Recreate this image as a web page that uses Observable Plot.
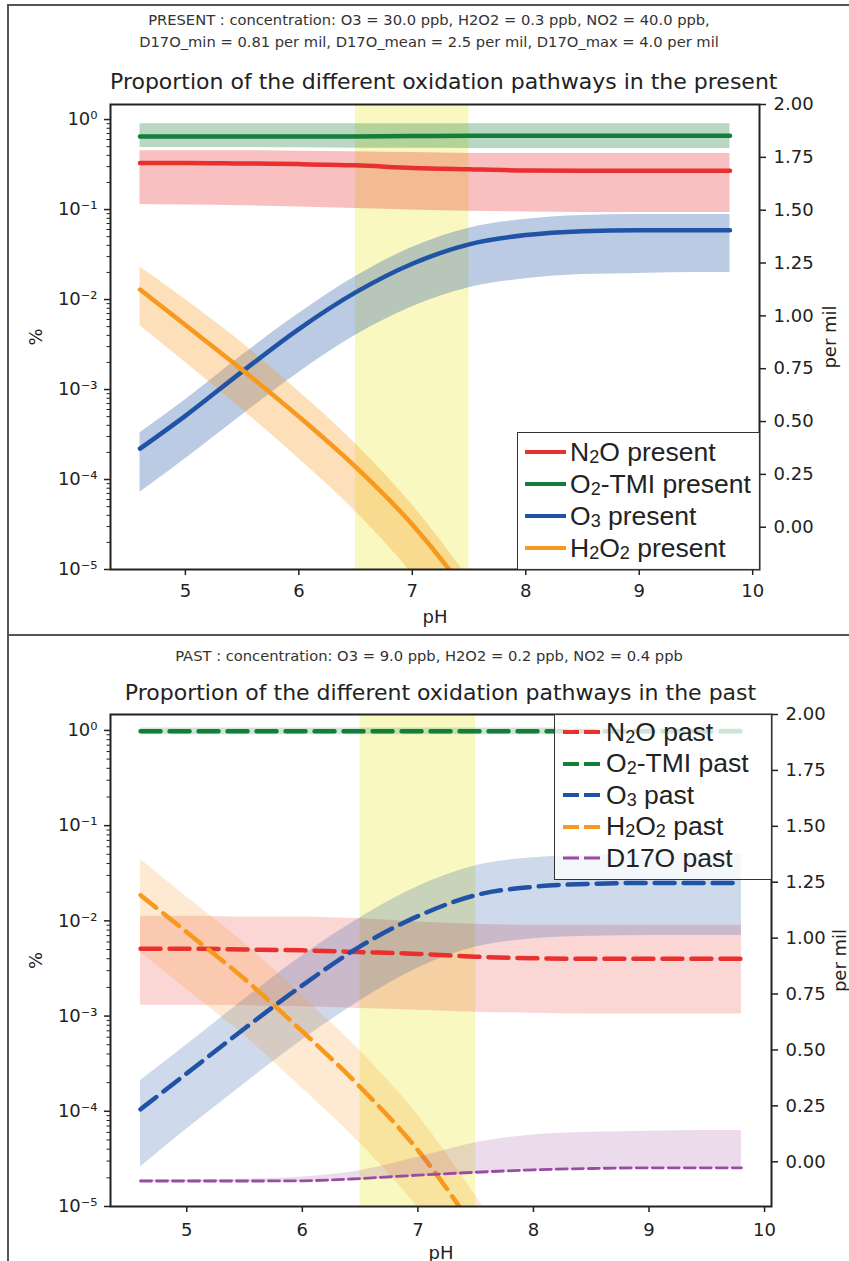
<!DOCTYPE html>
<html><head><meta charset="utf-8">
<script src="https://cdn.jsdelivr.net/npm/d3@7"></script>
<script src="https://cdn.jsdelivr.net/npm/@observablehq/plot@0.6"></script>
<style>
body{margin:0;background:#fff;width:849px;height:1261px;overflow:hidden;position:relative;font-family:"DejaVu Sans",sans-serif;}
.frameline{position:absolute;background:#555;}
.sup{position:absolute;left:0;width:858px;text-align:center;font-size:14.7px;color:#333;line-height:22px;white-space:nowrap;}
.title{position:absolute;text-align:center;font-size:22px;color:#222;white-space:nowrap;line-height:24px;}
.host{position:absolute;left:0;}
.host svg{position:absolute;left:0;top:0;}
.legend{position:absolute;box-sizing:border-box;border:1.5px solid #333;background:rgba(255,255,255,0.8);font-family:"Liberation Sans",Arial,sans-serif;font-size:26.5px;color:#222;z-index:5;}
.legend .row{position:absolute;left:0;height:32px;display:flex;align-items:center;white-space:nowrap;}
.legend svg{flex:none;}
.legend .s{font-size:0.68em;position:relative;top:0.12em;}
</style>
</head><body>
<div class="frameline" style="left:7px;top:4px;width:2px;height:1270px"></div>
<div class="frameline" style="left:7px;top:4px;width:850px;height:2px"></div>
<div class="frameline" style="left:7px;top:634px;width:850px;height:2px"></div>

<div class="sup" style="top:9px">PRESENT : concentration: O3 = 30.0 ppb, H2O2 = 0.3 ppb, NO2 = 40.0 ppb,<br>D17O_min = 0.81 per mil, D17O_mean = 2.5 per mil, D17O_max = 4.0 per mil</div>
<div class="title" style="top:70px;left:110px;width:649px">Proportion of the different oxidation pathways in the present</div>
<div class="host" id="p1" style="top:0;width:849px;height:636px"></div>

<div class="sup" style="top:645px">PAST : concentration: O3 = 9.0 ppb, H2O2 = 0.2 ppb, NO2 = 0.4 ppb</div>
<div class="title" style="top:681px;left:110px;width:661px">Proportion of the different oxidation pathways in the past</div>
<div class="host" id="p2" style="top:636px;width:849px;height:625px"></div>

<div id="leg1" class="legend" style="left:517px;top:432px;width:243px;height:138px"></div>
<div id="leg2" class="legend" style="left:554px;top:714px;width:218px;height:166px"></div>

<script>
// ---------- data ----------
const pH = [4.6, 5.0, 5.5, 6.0, 6.5, 7.0, 7.5, 8.0, 8.5, 9.0, 9.5, 9.8];
const pHshort = [4.6, 5.0, 5.5, 6.0, 6.5, 7.0, 7.5, 8.0];
const pHspan = [6.5, 7.5];

// present (fractions, log axis)
const n2oPresent     = [0.33, 0.33, 0.325, 0.32, 0.31, 0.29, 0.28, 0.272, 0.27, 0.27, 0.27, 0.27];
const n2oPresentLow  = [0.114, 0.112, 0.11, 0.107, 0.103, 0.099, 0.096, 0.094, 0.093, 0.093, 0.093, 0.093];
const n2oPresentHigh = [0.45, 0.45, 0.45, 0.445, 0.44, 0.43, 0.42, 0.42, 0.42, 0.42, 0.42, 0.42];
const o2Present      = [0.65, 0.65, 0.65, 0.65, 0.65, 0.655, 0.66, 0.66, 0.66, 0.66, 0.66, 0.66];
const o2PresentLow   = [0.49, 0.49, 0.49, 0.485, 0.48, 0.48, 0.478, 0.476, 0.476, 0.476, 0.476, 0.476];
const o2PresentHigh  = [0.9, 0.9, 0.9, 0.9, 0.9, 0.9, 0.9, 0.9, 0.9, 0.9, 0.9, 0.9];
const o3Present      = [2.2e-4, 5.1e-4, 1.58e-3, 4.7e-3, 0.012, 0.025, 0.041, 0.052, 0.0575, 0.059, 0.059, 0.059];
const o3PresentLow   = [7.2e-5, 1.7e-4, 5.2e-4, 1.55e-3, 4e-3, 8.3e-3, 0.0135, 0.017, 0.019, 0.0195, 0.02, 0.02];
const o3PresentHigh  = [3.3e-4, 7.7e-4, 2.4e-3, 7e-3, 0.018, 0.038, 0.062, 0.078, 0.086, 0.088, 0.088, 0.088];
const h2o2Present     = [0.0129, 5.2e-3, 1.66e-3, 5e-4, 1.38e-4, 3.16e-5, 5e-6, 5e-7];
const h2o2PresentLow  = [5.1e-3, 2e-3, 6e-4, 1.7e-4, 4.4e-5, 8.9e-6, 1.26e-6, 1e-7];
const h2o2PresentHigh = [0.023, 0.01, 3.3e-3, 9.5e-4, 2.5e-4, 5.2e-5, 7.9e-6, 1e-6];

// past (fractions, log axis)
const n2oPast     = [5.1e-3, 5.1e-3, 5.0e-3, 4.9e-3, 4.7e-3, 4.5e-3, 4.2e-3, 4.05e-3, 4.0e-3, 4.0e-3, 4.0e-3, 4.0e-3];
const n2oPastLow  = [1.3e-3, 1.3e-3, 1.28e-3, 1.25e-3, 1.2e-3, 1.15e-3, 1.1e-3, 1.07e-3, 1.05e-3, 1.05e-3, 1.05e-3, 1.05e-3];
const n2oPastHigh = [0.0112, 0.0112, 0.011, 0.011, 0.0105, 0.0097, 0.0092, 0.009, 0.009, 0.009, 0.009, 0.009];
const o2Past      = [0.98, 0.98, 0.98, 0.98, 0.98, 0.98, 0.98, 0.98, 0.98, 0.98, 0.98, 0.98];
const o2PastLow   = [0.9, 0.9, 0.9, 0.9, 0.9, 0.9, 0.9, 0.9, 0.9, 0.9, 0.9, 0.9];
const o2PastHigh  = [1.06, 1.06, 1.06, 1.06, 1.06, 1.06, 1.06, 1.06, 1.06, 1.06, 1.06, 1.06];
const o3Past      = [1.05e-4, 2.5e-4, 7.4e-4, 2.1e-3, 5.4e-3, 0.0112, 0.0186, 0.0228, 0.0245, 0.025, 0.025, 0.025];
const o3PastLow   = [2.6e-5, 6.5e-5, 1.95e-4, 5.6e-4, 1.45e-3, 3.2e-3, 5.3e-3, 6.5e-3, 6.9e-3, 7e-3, 7e-3, 7e-3];
const o3PastHigh  = [2.1e-4, 5e-4, 1.5e-3, 4.3e-3, 0.0108, 0.023, 0.038, 0.046, 0.049, 0.05, 0.05, 0.051];
const h2o2Past     = [0.0186, 7.6e-3, 2.45e-3, 6.9e-4, 1.8e-4, 3.9e-5, 5.6e-6, 6.3e-7];
const h2o2PastLow  = [4.7e-3, 1.9e-3, 6.2e-4, 1.74e-4, 4.6e-5, 9.8e-6, 1.4e-6, 1.6e-7];
const h2o2PastHigh = [0.044, 0.0178, 5.8e-3, 1.62e-3, 4.3e-4, 9.1e-5, 1.3e-5, 1.6e-6];
// past D17O (per mil, right axis)
const d17oPast     = [-0.086, -0.086, -0.086, -0.085, -0.075, -0.06, -0.047, -0.036, -0.03, -0.027, -0.027, -0.027];
const d17oPastLow  = [-0.09, -0.09, -0.09, -0.089, -0.08, -0.065, -0.052, -0.04, -0.033, -0.03, -0.03, -0.03];
const d17oPastHigh = [-0.08, -0.08, -0.078, -0.068, -0.04, 0.02, 0.085, 0.12, 0.132, 0.137, 0.14, 0.14];

// axes
const xTicks = [5, 6, 7, 8, 9, 10];
const logTicks = [1e-5, 1e-4, 1e-3, 1e-2, 1e-1, 1];
const minorMult = [2, 3, 4, 5, 6, 7, 8, 9];
const rightTicks = [0, 0.25, 0.5, 0.75, 1.0, 1.25, 1.5, 1.75, 2.0];
const xDomain = [4.34, 10.06];
const yDomain = [1e-5, 1.47];
const rDomain = [-0.2, 2.0];

// colours
const RED = "#e8302e", GREEN = "#137d3a", BLUE = "#2052a5", ORANGE = "#f8981c", PURPLE = "#9a4ba4", YELLOW = "#e8e830";

// ---------- helpers ----------
const rows = (xs, y, lo, hi) => xs.map((x, i) => ({x, y: y[i], lo: lo[i], hi: hi[i]}));
const minorTicks = logTicks.slice(0, -1).flatMap(t => minorMult.map(m => m * t));
const supMap = {"-": "\u207B", "0": "\u2070", "1": "\u00B9", "2": "\u00B2", "3": "\u00B3", "4": "\u2074", "5": "\u2075"};
const fmtPow = d => "10" + String(Math.round(Math.log10(d))).split("").map(c => supMap[c]).join("");
const styleBase = {fontFamily: "DejaVu Sans", fontSize: "18px", color: "#222", background: "transparent", overflow: "visible"};

function mainPlot({height, mt, mb, mr, series, bandOpacity, xPad, xLab}) {
  const marks = [
    Plot.rect([{x1: pHspan[0], x2: pHspan[1]}], {x1: "x1", x2: "x2", fill: YELLOW, fillOpacity: 0.3})
  ];
  for (const s of series) marks.push(Plot.areaY(s.data, {x: "x", y1: "lo", y2: "hi", fill: s.color, fillOpacity: s.bandOpacity ?? bandOpacity, curve: "monotone-x", clip: true}));
  for (const s of series) marks.push(Plot.lineY(s.data, {x: "x", y: "y", stroke: s.color, strokeWidth: s.width, strokeDasharray: s.dash, curve: "monotone-x", clip: true}));
  marks.push(
    Plot.frame({stroke: "#222", strokeWidth: 2}),
    Plot.axisX({ticks: xTicks, tickSize: 6, tickPadding: xPad, strokeWidth: 1.5, tickFormat: d => String(d), label: "pH", labelAnchor: "center", labelArrow: "none", labelOffset: xLab}),
    Plot.axisY({ticks: minorTicks, tickSize: 3.5, strokeWidth: 1, tickFormat: () => "", label: null}),
    Plot.axisY({ticks: logTicks, tickSize: 6, tickPadding: 7, strokeWidth: 1.5, tickFormat: fmtPow, label: "%", labelAnchor: "center", labelArrow: "none", labelOffset: 81})
  );
  return Plot.plot({
    width: 849, height, marginTop: mt, marginBottom: mb, marginLeft: 110, marginRight: mr,
    style: styleBase,
    x: {domain: xDomain},
    y: {type: "log", domain: yDomain},
    marks
  });
}

function rightPlot({height, mt, mb, mr, extra, rLab}) {
  return Plot.plot({
    width: 849, height, marginTop: mt, marginBottom: mb, marginLeft: 110, marginRight: mr,
    style: styleBase,
    x: {domain: xDomain, axis: null},
    y: {domain: rDomain},
    marks: [
      ...extra,
      Plot.axisY({anchor: "right", ticks: rightTicks, tickSize: 6, tickPadding: 8, strokeWidth: 1.5, tickFormat: d => d.toFixed(2), label: "per mil", labelAnchor: "center", labelArrow: "none", labelOffset: rLab})
    ]
  });
}

// ---------- present ----------
const present = [
  {color: RED, width: 4.5, data: rows(pH, n2oPresent, n2oPresentLow, n2oPresentHigh)},
  {color: GREEN, width: 4.5, data: rows(pH, o2Present, o2PresentLow, o2PresentHigh)},
  {color: BLUE, width: 4.5, data: rows(pH, o3Present, o3PresentLow, o3PresentHigh)},
  {color: ORANGE, width: 4.5, data: rows(pHshort, h2o2Present, h2o2PresentLow, h2o2PresentHigh)}
];
const p1 = document.getElementById("p1");
p1.append(mainPlot({height: 636, mt: 104, mb: 636 - 569, mr: 849 - 759, series: present, bandOpacity: 0.3, xPad: 9, xLab: 53}));
p1.append(rightPlot({height: 636, mt: 104, mb: 636 - 569, mr: 849 - 759, extra: [], rLab: 76}));

// ---------- past ----------
const past = [
  {color: RED, width: 4.5, dash: "20,9", bandOpacity: 0.2, data: rows(pH, n2oPast, n2oPastLow, n2oPastHigh)},
  {color: GREEN, width: 4.5, dash: "20,9", bandOpacity: 0.2, data: rows(pH, o2Past, o2PastLow, o2PastHigh)},
  {color: BLUE, width: 4.5, dash: "20,9", bandOpacity: 0.22, data: rows(pH, o3Past, o3PastLow, o3PastHigh)},
  {color: ORANGE, width: 4.5, dash: "20,9", bandOpacity: 0.2, data: rows(pHshort, h2o2Past, h2o2PastLow, h2o2PastHigh)}
];
const d17oRows = rows(pH, d17oPast, d17oPastLow, d17oPastHigh);
const p2 = document.getElementById("p2");
p2.append(mainPlot({height: 625, mt: 714 - 636, mb: 1261 - 1206, mr: 849 - 771, series: past, bandOpacity: 0.2, xPad: 11, xLab: 52}));
p2.append(rightPlot({height: 625, mt: 714 - 636, mb: 1261 - 1206, mr: 849 - 771, rLab: 74, extra: [
  Plot.areaY(d17oRows, {x: "x", y1: "lo", y2: "hi", fill: PURPLE, fillOpacity: 0.2, curve: "monotone-x"}),
  Plot.lineY(d17oRows, {x: "x", y: "y", stroke: PURPLE, strokeWidth: 2.8, strokeDasharray: "11,5", curve: "monotone-x"})
]}));

// ---------- legends ----------
const legendPresent = [
  {color: RED, label: 'N<span class="s">2</span>O present'},
  {color: GREEN, label: 'O<span class="s">2</span>-TMI present'},
  {color: BLUE, label: 'O<span class="s">3</span> present'},
  {color: ORANGE, label: 'H<span class="s">2</span>O<span class="s">2</span> present'}
];
const legendPast = [
  {color: RED, label: 'N<span class="s">2</span>O past', w: 4},
  {color: GREEN, label: 'O<span class="s">2</span>-TMI past', w: 4},
  {color: BLUE, label: 'O<span class="s">3</span> past', w: 4},
  {color: ORANGE, label: 'H<span class="s">2</span>O<span class="s">2</span> past', w: 4},
  {color: PURPLE, label: 'D17O past', w: 3}
];
function buildLegend(el, items, {top0, step, padL, len, gap, dash}) {
  items.forEach((it, i) => {
    const row = document.createElement("div");
    row.className = "row";
    row.style.top = (top0 + i * step - 16) + "px";
    row.style.left = padL + "px";
    row.innerHTML = `<svg width="${len}" height="10"><line x1="0" x2="${len}" y1="5" y2="5" stroke="${it.color}" stroke-width="${it.w || 4}" ${dash ? `stroke-dasharray="${dash}"` : ""}/></svg><span style="margin-left:${gap}px">${it.label}</span>`;
    el.append(row);
  });
}
buildLegend(document.getElementById("leg1"), legendPresent, {top0: 19, step: 32, padL: 7, len: 41, gap: 4});
buildLegend(document.getElementById("leg2"), legendPast, {top0: 17, step: 31.5, padL: 8, len: 37, gap: 6, dash: "16,5"});
</script>
</body></html>
